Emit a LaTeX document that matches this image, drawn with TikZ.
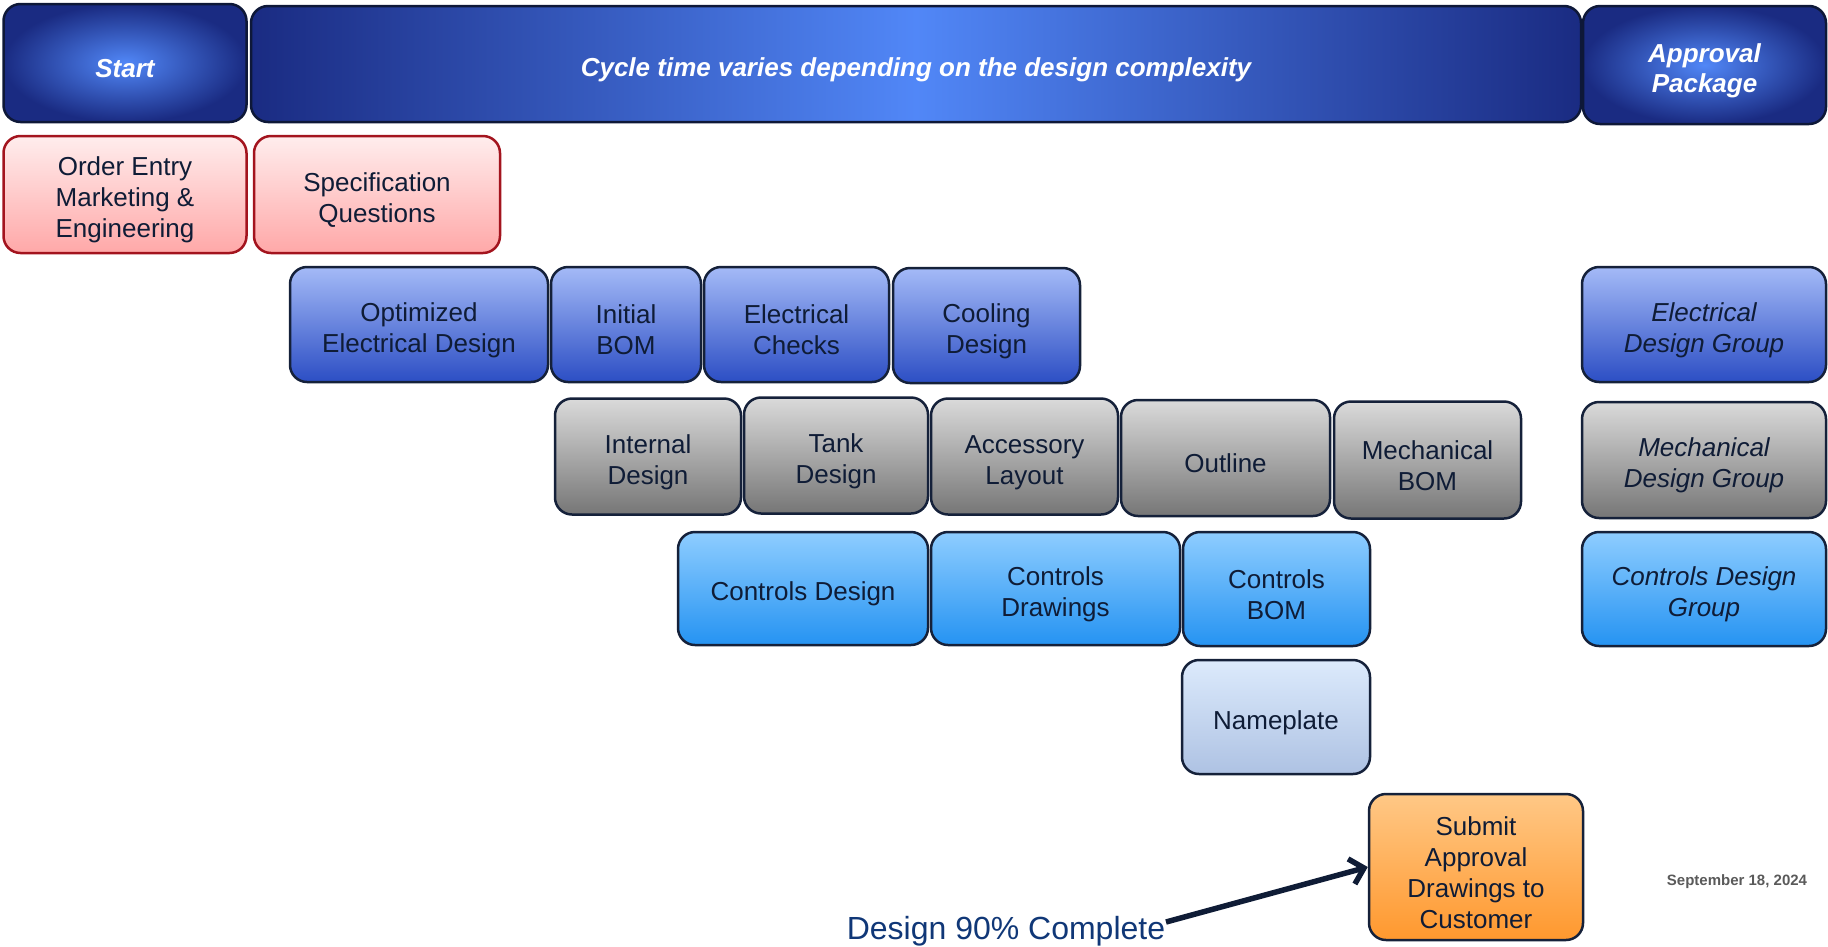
\documentclass[tikz,border=0pt]{standalone}
\usepackage{fontspec}
\setmainfont{Liberation Sans}
\usetikzlibrary{arrows.meta}
\newcommand{\tstrut}{\rule{0pt}{30pt}}
\definecolor{hdrDark}{HTML}{1A2B82}
\definecolor{hdrLight}{HTML}{5187F7}
\definecolor{hdrLine}{HTML}{0E1838}
\definecolor{pinkTop}{HTML}{FFEDED}
\definecolor{pinkBot}{HTML}{FFA8A8}
\definecolor{pinkLine}{HTML}{A3141E}
\definecolor{blueTop}{HTML}{A4BAF7}
\definecolor{blueBot}{HTML}{2C4EC4}
\definecolor{greyTop}{HTML}{DADADA}
\definecolor{greyBot}{HTML}{767676}
\definecolor{ltTop}{HTML}{8ECDFF}
\definecolor{ltBot}{HTML}{2593F2}
\definecolor{nameTop}{HTML}{DCEAFC}
\definecolor{nameBot}{HTML}{AEC2E3}
\definecolor{orTop}{HTML}{FFC886}
\definecolor{orBot}{HTML}{FF982E}
\definecolor{boxLine}{HTML}{15213A}
\definecolor{txt}{HTML}{0F1C36}
\definecolor{pctcol}{HTML}{103777}
\definecolor{datecol}{HTML}{5A5A5A}
\tikzset{
  sz/.style 2 args={minimum width=#1pt, minimum height=#2pt},
  bx/.style={rectangle, rounded corners=17pt, draw=boxLine, line width=2.5pt,
    align=center, text=txt, inner sep=0pt,
    font=\fontsize{26}{31}\selectfont},
  hdr/.style={bx, draw=hdrLine, text=white,
    font=\bfseries\itshape\fontsize{26}{30}\selectfont},
  hdrradial/.style={hdr, inner color=hdrLight, outer color=hdrDark},
  hdrbar/.style={hdr, left color=hdrDark, right color=hdrDark, middle color=hdrLight},
  pinkbox/.style={bx, draw=pinkLine, top color=pinkTop, bottom color=pinkBot},
  bluebox/.style={bx, top color=blueTop, bottom color=blueBot},
  greybox/.style={bx, top color=greyTop, bottom color=greyBot},
  ltbox/.style={bx, top color=ltTop, bottom color=ltBot},
  namebox/.style={bx, top color=nameTop, bottom color=nameBot},
  orbox/.style={bx, top color=orTop, bottom color=orBot},
  grp/.style={font=\itshape\fontsize{26}{31}\selectfont},
  conn/.style={draw=txt, line width=5.5pt, -{Straight Barb[length=13pt,width=26pt,line width=5.5pt]}}
}
\begin{document}
\begin{tikzpicture}[x=1pt,y=-1pt]
\useasboundingbox (0,0) rectangle (1828,946);
% header row
\node[hdrradial, sz={243}{118}] (start) at (125,63) {\tstrut Start};
\node[hdrbar, sz={1330}{116}] (cycle) at (916,64) {\tstrut Cycle time varies depending on the design complexity};
\node[hdrradial, sz={243}{118}] (appr) at (1704.5,65) {\tstrut Approval\\Package};
% pink row
\node[pinkbox, sz={243}{117}] (order) at (125,194.5) {\tstrut Order Entry\\Marketing \&\\Engineering};
\node[pinkbox, sz={246}{117}] (spec) at (377,194.5) {\tstrut Specification\\Questions};
% electrical row
\node[bluebox, sz={258}{115}] (opt) at (419,324.5) {\tstrut Optimized\\Electrical Design};
\node[bluebox, sz={150}{115}] (ibom) at (626,324.5) {\tstrut Initial\\BOM};
\node[bluebox, sz={185}{115}] (echk) at (796.5,324.5) {\tstrut Electrical\\Checks};
\node[bluebox, sz={187}{115}] (cool) at (986.5,325.5) {\tstrut Cooling\\Design};
\node[bluebox, grp, sz={244}{115}] (edg) at (1704,324.5) {\tstrut Electrical\\Design Group};
% mechanical row
\node[greybox, sz={186}{116}] (intd) at (648,456.5) {\tstrut Internal\\Design};
\node[greybox, sz={184}{116}] (tank) at (836,455.5) {\tstrut Tank\\Design};
\node[greybox, sz={187}{116}] (acc) at (1024.5,456.5) {\tstrut Accessory\\Layout};
\node[greybox, sz={209}{116}] (outl) at (1225.5,458) {\tstrut Outline};
\node[greybox, sz={187}{117}] (mbom) at (1427.5,460) {\tstrut Mechanical\\BOM};
\node[greybox, grp, sz={244}{116}] (mdg) at (1704,460) {\tstrut Mechanical\\Design Group};
% controls row
\node[ltbox, sz={250}{113}] (cdes) at (803,588.5) {\tstrut Controls Design};
\node[ltbox, sz={249}{113}] (cdrw) at (1055.5,588.5) {\tstrut Controls\\Drawings};
\node[ltbox, sz={187}{114}] (cbom) at (1276.5,589) {\tstrut Controls\\BOM};
\node[ltbox, grp, sz={244}{114}] (cdg) at (1704,589) {\tstrut Controls Design\\Group};
% nameplate & submit
\node[namebox, sz={188}{114}] (name) at (1276,717) {\tstrut Nameplate};
\node[orbox, sz={214}{146}] (sub) at (1476,867) {\tstrut Submit\\Approval\\Drawings to\\Customer};
% labels
\node[anchor=base, inner sep=0pt, text=pctcol, font=\fontsize{32}{36}\selectfont] (pct) at (1006,939) {Design 90\% Complete};
\node[anchor=base, inner sep=0pt, text=datecol, font=\bfseries\fontsize{15}{18}\selectfont] (date) at (1737,885) {September 18, 2024};
\coordinate (pctend) at (1166,922);
\draw[conn] (pctend) -- (sub.west);
\end{tikzpicture}
\end{document}
